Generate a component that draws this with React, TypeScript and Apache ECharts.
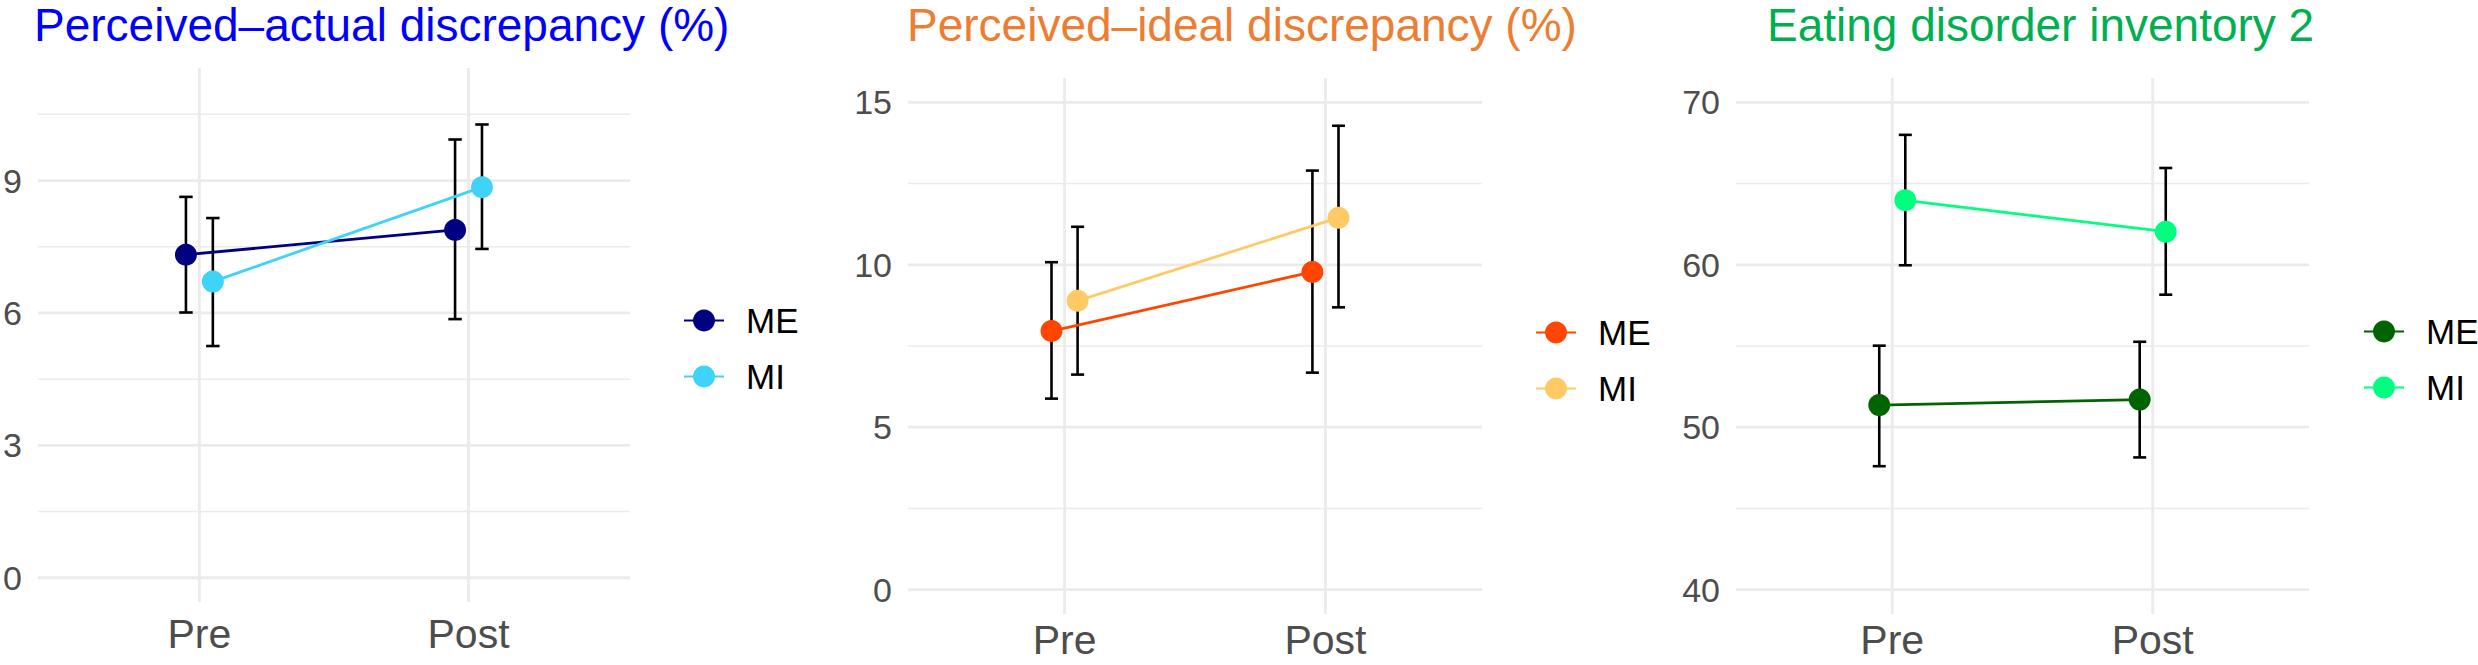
import React, { useEffect, useRef } from "react";
import * as echarts from "echarts";

// ---------- data ----------
const categories = ["Pre", "Post"];
const groups = ["ME", "MI"];

const titles = [
  "Perceived\u2013actual discrepancy (%)",
  "Perceived\u2013ideal discrepancy (%)",
  "Eating disorder inventory 2",
];
const titleColors = ["#0000FF", "#ED7D31", "#00B050"];

// Panel 1: Perceived–actual discrepancy
const actualME = [7.32, 7.88];
const actualMELow = [6.01, 5.86];
const actualMEHigh = [8.63, 9.93];
const actualMI = [6.71, 8.85];
const actualMILow = [5.25, 7.45];
const actualMIHigh = [8.15, 10.27];
const actualMajor = [0, 3, 6, 9];
const actualMinor = [1.5, 4.5, 7.5, 10.5];
const actualLimits = [0, 11];
const actualColors = ["#000080", "#40D3F8"];

// Panel 2: Perceived–ideal discrepancy
const idealME = [7.96, 9.78];
const idealMELow = [5.88, 6.68];
const idealMEHigh = [10.08, 12.9];
const idealMI = [8.89, 11.45];
const idealMILow = [6.62, 8.69];
const idealMIHigh = [11.17, 14.28];
const idealMajor = [0, 5, 10, 15];
const idealMinor = [2.5, 7.5, 12.5];
const idealLimits = [0, 15];
const idealColors = ["#FF4500", "#FFCA66"];

// Panel 3: Eating disorder inventory 2
const ediME = [51.36, 51.7];
const ediMELow = [47.6, 48.14];
const ediMEHigh = [55.02, 55.26];
const ediMI = [63.97, 62.04];
const ediMILow = [59.97, 58.16];
const ediMIHigh = [68.0, 65.96];
const ediMajor = [40, 50, 60, 70];
const ediMinor = [45, 55, 65];
const ediLimits = [40, 70];
const ediColors = ["#006400", "#00FF7F"];

const dodge = [-0.05, 0.05];
const capHalf = 0.025;

// ---------- layout ----------
const FONT = '"Liberation Sans", Arial, Helvetica, sans-serif';
const grids = [
  { left: 36, top: 68, width: 594, height: 534, xMargin: 16 },
  { left: 908, top: 78, width: 574, height: 536, xMargin: 10 },
  { left: 1736, top: 78, width: 573, height: 536, xMargin: 10 },
];
const titlePos = [
  { left: 34, top: 2 },
  { left: 907, top: 2 },
  { left: 1767, top: 2 },
];
const legendPos = [
  { left: 683, top: 303 },
  { left: 1535, top: 315 },
  { left: 2363, top: 314 },
];

const panels = [
  {
    means: [actualME, actualMI],
    lows: [actualMELow, actualMILow],
    highs: [actualMEHigh, actualMIHigh],
    major: actualMajor,
    minor: actualMinor,
    limits: actualLimits,
    colors: actualColors,
  },
  {
    means: [idealME, idealMI],
    lows: [idealMELow, idealMILow],
    highs: [idealMEHigh, idealMIHigh],
    major: idealMajor,
    minor: idealMinor,
    limits: idealLimits,
    colors: idealColors,
  },
  {
    means: [ediME, ediMI],
    lows: [ediMELow, ediMILow],
    highs: [ediMEHigh, ediMIHigh],
    major: ediMajor,
    minor: ediMinor,
    limits: ediLimits,
    colors: ediColors,
  },
];

function buildOption() {
  const grid: any[] = [];
  const xAxis: any[] = [];
  const yAxis: any[] = [];
  const series: any[] = [];
  const title: any[] = [];
  const legend: any[] = [];

  panels.forEach((p, i) => {
    const g = grids[i];
    grid.push({ left: g.left, top: g.top, width: g.width, height: g.height, containLabel: false });
    const span = p.limits[1] - p.limits[0];
    const ymin = p.limits[0] - 0.05 * span;
    const ymax = p.limits[1] + 0.05 * span;
    xAxis.push({
      type: "value",
      gridIndex: i,
      min: 0.4,
      max: 2.6,
      axisLine: { show: false },
      axisTick: { show: false },
      splitLine: { show: false },
      axisLabel: {
        customValues: categories.map((_, k) => k + 1),
        formatter: (v: number) => categories[Math.round(v) - 1] ?? "",
        fontSize: 41,
        lineHeight: 32,
        fontFamily: FONT,
        color: "#4D4D4D",
        margin: g.xMargin,
      },
    });
    yAxis.push({
      type: "value",
      gridIndex: i,
      min: ymin,
      max: ymax,
      axisLine: { show: false },
      axisTick: { show: false },
      splitLine: { show: false },
      axisLabel: {
        customValues: p.major,
        formatter: (v: number) => String(Math.round(v)),
        fontSize: 34,
        fontFamily: FONT,
        color: "#4D4D4D",
        margin: 16,
      },
    });

    // grid lines from tick arrays
    const gridData: number[][] = [];
    p.minor.forEach((v) => gridData.push([0, v, 1.5]));
    p.major.forEach((v) => gridData.push([0, v, 2.8]));
    categories.forEach((_, k) => gridData.push([1, k + 1, 2.8]));
    series.push({
      type: "custom",
      xAxisIndex: i,
      yAxisIndex: i,
      silent: true,
      z: 0,
      clip: false,
      data: gridData,
      encode: { x: 1, y: 1 },
      renderItem: (params: any, api: any) => {
        const o = api.value(0);
        const v = api.value(1);
        const w = api.value(2);
        const cs = params.coordSys;
        if (o === 0) {
          const y = api.coord([1, v])[1];
          return {
            type: "line",
            shape: { x1: cs.x, y1: y, x2: cs.x + cs.width, y2: y },
            style: { stroke: "#EBEBEB", lineWidth: w },
          };
        }
        const x = api.coord([v, ymin])[0];
        return {
          type: "line",
          shape: { x1: x, y1: cs.y, x2: x, y2: cs.y + cs.height },
          style: { stroke: "#EBEBEB", lineWidth: w },
        };
      },
    });

    // error bars
    groups.forEach((gname, gi) => {
      const ebData = categories.map((_, k) => [k + 1 + dodge[gi], p.lows[gi][k], p.highs[gi][k]]);
      series.push({
        type: "custom",
        name: "eb" + gname + i,
        xAxisIndex: i,
        yAxisIndex: i,
        silent: true,
        z: 2,
        clip: false,
        data: ebData,
        encode: { x: 0, y: [1, 2] },
        renderItem: (params: any, api: any) => {
          const x = api.value(0);
          const lo = api.value(1);
          const hi = api.value(2);
          const pLo = api.coord([x, lo]);
          const pHi = api.coord([x, hi]);
          const xl = api.coord([x - capHalf, hi])[0];
          const xr = api.coord([x + capHalf, hi])[0];
          const st = { stroke: "#000000", lineWidth: 2.6 };
          return {
            type: "group",
            children: [
              { type: "line", shape: { x1: pLo[0], y1: pLo[1], x2: pHi[0], y2: pHi[1] }, style: st },
              { type: "line", shape: { x1: xl, y1: pHi[1], x2: xr, y2: pHi[1] }, style: st },
              { type: "line", shape: { x1: xl, y1: pLo[1], x2: xr, y2: pLo[1] }, style: st },
            ],
          };
        },
      });
    });

    // lines + points
    groups.forEach((gname, gi) => {
      series.push({
        type: "line",
        name: gname + "|" + i,
        xAxisIndex: i,
        yAxisIndex: i,
        z: 3,
        symbol: "circle",
        symbolSize: 22,
        showSymbol: true,
        clip: false,
        data: categories.map((_, k) => [k + 1 + dodge[gi], p.means[gi][k]]),
        lineStyle: { color: p.colors[gi], width: 2.8 },
        itemStyle: { color: p.colors[gi] },
        emphasis: { disabled: true },
      });
    });

    title.push({
      text: titles[i],
      left: titlePos[i].left,
      top: titlePos[i].top,
      padding: 0,
      textStyle: {
        fontSize: 46,
        lineHeight: 46,
        fontWeight: "normal",
        fontFamily: FONT,
        color: titleColors[i],
      },
    });

    legend.push({
      data: groups.map((gname) => gname + "|" + i),
      formatter: (n: string) => n.split("|")[0],
      orient: "vertical",
      left: legendPos[i].left,
      top: legendPos[i].top,
      padding: 0,
      itemWidth: 40,
      itemHeight: 27.5,
      itemGap: 21,
      selectedMode: false,
      textStyle: {
        fontSize: 35,
        fontFamily: FONT,
        color: "#000000",
        lineHeight: 28,
        padding: [0, 0, 0, 17],
      },
    });
  });

  return {
    animation: false,
    backgroundColor: "#FFFFFF",
    title,
    legend,
    grid,
    xAxis,
    yAxis,
    series,
  };
}

export default function App() {
  const ref = useRef<HTMLDivElement>(null);
  useEffect(() => {
    if (!ref.current) return;
    const chart = echarts.init(ref.current, undefined, { renderer: "svg" });
    chart.setOption(buildOption() as any);
    return () => chart.dispose();
  }, []);
  return (
    <div
      ref={ref}
      style={{ position: "absolute", left: 0, top: 0, width: 2478, height: 665, background: "#fff" }}
    />
  );
}
